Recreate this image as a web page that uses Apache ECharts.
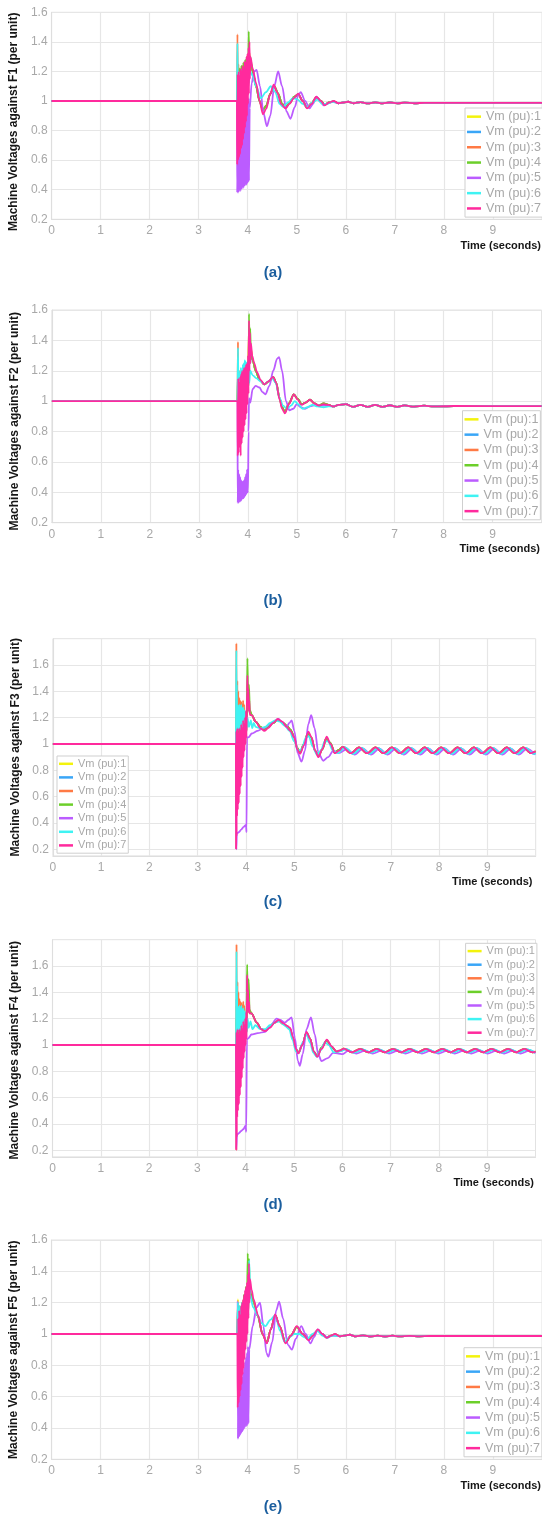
<!DOCTYPE html>
<html>
<head>
<meta charset="utf-8">
<script src="https://cdn.jsdelivr.net/npm/echarts@6/dist/echarts.min.js"></script>
<style>
html,body{margin:0;padding:0;background:#fff}
#graph{width:542px;height:1518px}
</style>
</head>
<body>
<div id="graph"></div>
<script>
// legend names, colours and tick labels
var names = ['Vm (pu):1','Vm (pu):2','Vm (pu):3','Vm (pu):4','Vm (pu):5','Vm (pu):6','Vm (pu):7'];
var colors = ['#f3f30c','#3aa6f7','#ff7a45','#6ccf2a','#bb5cff','#3ff3f3','#ff2a9d'];
var xTicks = [0,1,2,3,4,5,6,7,8,9];
var yTicks = [0.2,0.4,0.6,0.8,1,1.2,1.4,1.6];

// ---------- (a) F1 ----------
var aPre = [[0,1],[3.78,1]];
var aFault1 = [[3.79,1.1],[3.8,0.98],[3.82,1.2],[3.84,1.0],[3.86,1.22],[3.88,1.02],[3.9,1.24],[3.92,1.05],[3.94,1.26],[3.96,1.08],[3.98,1.3],[4.0,1.12],[4.02,1.32],[4.05,1.28]];
var aFault2 = [[3.79,1.15],[3.81,0.97],[3.83,1.18],[3.85,1.0],[3.87,1.2],[3.89,1.02],[3.91,1.22],[3.93,1.05],[3.95,1.25],[3.97,1.08],[3.99,1.28],[4.01,1.1],[4.03,1.3],[4.05,1.27]];
var aFault3 = [[3.79,1.45],[3.8,1.0],[3.81,1.25],[3.83,0.98],[3.85,1.2],[3.87,1.0],[3.89,1.22],[3.91,1.03],[3.93,1.24],[3.95,1.06],[3.97,1.27],[3.99,1.1],[4.01,1.3],[4.03,1.33],[4.05,1.28]];
var aFault4 = [[3.79,1.2],[3.81,1.0],[3.83,1.22],[3.85,1.02],[3.87,1.24],[3.89,1.04],[3.91,1.26],[3.93,1.06],[3.95,1.28],[3.97,1.1],[3.99,1.3],[4.01,1.15],[4.02,1.47],[4.035,1.2],[4.05,1.3]];
var aPost = [[4.1,1.2],[4.17,1.1],[4.24,1.0],[4.31,0.94],[4.38,0.97],[4.46,1.05],[4.54,1.1],[4.62,1.05],[4.7,0.98],[4.77,0.955],[4.86,0.99],[4.95,1.03],[5.03,1.045],[5.12,1.0],[5.21,0.955],[5.3,0.985],[5.4,1.025],[5.49,1.0],[5.57,0.975],[5.66,0.99],[5.75,0.998]];
var aTail = [[5.85,0.985],[5.95,0.99],[6.05,0.995],[6.15,0.985],[6.3,0.992],[6.45,0.984],[6.6,0.991],[6.75,0.984],[6.9,0.99],[7.05,0.984],[7.2,0.989],[7.4,0.985],[7.6,0.988],[8,0.987],[10,0.987]];
var aFault5 = [[3.785,0.38],[3.795,0.72],[3.805,0.38],[3.815,0.74],[3.825,0.39],[3.835,0.76],[3.845,0.39],[3.855,0.8],[3.865,0.4],[3.875,0.82],[3.885,0.41],[3.895,0.85],[3.905,0.41],[3.915,0.88],[3.925,0.42],[3.935,0.9],[3.945,0.43],[3.955,0.93],[3.965,0.43],[3.975,0.96],[3.985,0.44],[3.995,1.0],[4.005,0.45],[4.015,1.02],[4.025,0.46]];
var aPost5 = [[4.04,0.95],[4.08,1.12],[4.13,1.2],[4.18,1.21],[4.25,1.1],[4.32,0.92],[4.39,0.83],[4.46,0.9],[4.54,1.1],[4.62,1.2],[4.7,1.1],[4.79,0.93],[4.87,0.88],[4.96,0.96],[5.03,1.04],[5.08,1.06],[5.17,1.0],[5.26,0.95],[5.33,0.98],[5.4,1.03],[5.48,1.0],[5.55,0.97],[5.64,0.985],[5.74,0.995]];
var aFault6 = [[3.79,1.39],[3.8,1.0],[3.81,1.2],[3.82,1.02],[3.83,1.18],[3.84,1.0],[3.85,1.2],[3.86,1.03],[3.87,1.19],[3.88,1.02],[3.89,1.22],[3.9,1.05],[3.91,1.2],[3.92,1.04],[3.93,1.22],[3.94,1.06],[3.95,1.23],[3.96,1.05],[3.97,1.24],[3.98,1.08],[3.99,1.25],[4.0,1.1],[4.01,1.26],[4.02,1.12],[4.03,1.3],[4.05,1.2]];
var aPost6 = [[4.1,1.17],[4.17,1.1],[4.27,1.02],[4.37,1.06],[4.47,1.1],[4.56,1.06],[4.65,0.98],[4.72,0.96],[4.82,0.99],[4.92,1.02],[5.02,1.01],[5.12,0.98],[5.22,0.96],[5.32,0.99],[5.42,1.01],[5.52,0.98],[5.62,0.98],[5.72,0.995]];
var aFault7 = [[3.785,0.57],[3.795,1.18],[3.805,0.6],[3.815,1.2],[3.825,0.62],[3.835,1.17],[3.845,0.64],[3.855,1.22],[3.865,0.68],[3.875,1.2],[3.885,0.7],[3.895,1.24],[3.905,0.74],[3.915,1.22],[3.925,0.78],[3.935,1.27],[3.945,0.82],[3.955,1.26],[3.965,0.86],[3.975,1.3],[3.985,0.9],[3.995,1.32],[4.005,0.98],[4.015,1.36],[4.025,1.05],[4.035,1.4],[4.045,1.15],[4.055,1.3]];
var aPost7 = [[4.1,1.22],[4.17,1.12],[4.24,1.0],[4.31,0.91],[4.38,0.95],[4.45,1.04],[4.53,1.11],[4.6,1.06],[4.68,0.98],[4.77,0.95],[4.85,0.98],[4.94,1.02],[5.03,1.05],[5.12,1.0],[5.21,0.95],[5.3,0.98],[5.4,1.03],[5.49,1.0],[5.57,0.97],[5.66,0.99],[5.75,1.0]];

// ---------- (b) F2 ----------
var bPre = [[0,1],[3.79,1]];
var bFault1 = [[3.8,1.15],[3.81,0.95],[3.83,1.15],[3.85,0.98],[3.87,1.17],[3.89,1.0],[3.91,1.2],[3.93,1.02],[3.95,1.22],[3.97,1.05],[3.99,1.25],[4.01,1.1],[4.025,1.45],[4.04,1.25],[4.06,1.35]];
var bFault2 = [[3.8,1.2],[3.82,0.97],[3.84,1.16],[3.86,1.0],[3.88,1.18],[3.9,1.02],[3.92,1.2],[3.94,1.04],[3.96,1.22],[3.98,1.06],[4.0,1.25],[4.02,1.12],[4.03,1.42],[4.05,1.25],[4.06,1.32]];
var bFault3 = [[3.8,1.39],[3.805,1.0],[3.82,1.2],[3.84,0.98],[3.86,1.18],[3.88,1.0],[3.9,1.2],[3.92,1.03],[3.94,1.22],[3.96,1.05],[3.98,1.24],[4.0,1.08],[4.025,1.5],[4.04,1.25],[4.06,1.35]];
var bFault4 = [[3.8,1.18],[3.82,0.98],[3.84,1.18],[3.86,1.0],[3.88,1.2],[3.9,1.02],[3.92,1.22],[3.94,1.04],[3.96,1.24],[3.98,1.06],[4.0,1.26],[4.015,1.1],[4.025,1.574],[4.04,1.3],[4.05,1.48],[4.065,1.3]];
var bPost = [[4.1,1.27],[4.16,1.2],[4.24,1.14],[4.34,1.11],[4.43,1.13],[4.52,1.16],[4.58,1.12],[4.65,1.02],[4.7,0.96],[4.76,0.93],[4.84,0.985],[4.94,1.045],[5.02,1.015],[5.1,0.98],[5.18,0.99],[5.27,1.01],[5.36,0.985],[5.45,0.97],[5.55,0.985],[5.65,0.975]];
var bTail = [[5.75,0.965],[5.85,0.975],[6.0,0.98],[6.15,0.962],[6.3,0.975],[6.45,0.962],[6.6,0.975],[6.75,0.963],[6.9,0.973],[7.05,0.963],[7.2,0.972],[7.4,0.964],[7.6,0.97],[7.8,0.965],[8.2,0.968],[10,0.967]];
var bFault5 = [[3.795,0.33],[3.805,0.55],[3.815,0.33],[3.825,0.52],[3.835,0.34],[3.845,0.5],[3.855,0.34],[3.865,0.48],[3.875,0.35],[3.885,0.47],[3.895,0.36],[3.905,0.47],[3.915,0.36],[3.925,0.48],[3.935,0.37],[3.945,0.5],[3.955,0.38],[3.965,0.52],[3.975,0.39],[3.985,0.55],[3.995,0.4],[4.005,0.41]];
var bPost5 = [[4.015,0.8],[4.025,1.02],[4.05,0.99],[4.1,1.08],[4.16,1.1],[4.24,1.09],[4.3,1.06],[4.36,1.045],[4.44,1.1],[4.52,1.2],[4.6,1.28],[4.64,1.29],[4.7,1.2],[4.78,1.0],[4.85,0.94],[4.93,0.95],[5.0,0.98],[5.08,0.96],[5.17,0.95],[5.27,0.965],[5.38,0.975],[5.5,0.97],[5.6,0.972]];
var bFault6 = [[3.8,1.35],[3.81,1.02],[3.82,1.2],[3.83,1.05],[3.84,1.18],[3.85,1.06],[3.86,1.22],[3.87,1.08],[3.88,1.2],[3.89,1.1],[3.9,1.24],[3.91,1.1],[3.92,1.25],[3.93,1.12],[3.94,1.27],[3.95,1.12],[3.96,1.26],[3.97,1.14],[3.98,1.25],[3.99,1.12],[4.0,1.22],[4.01,1.1],[4.02,1.3],[4.03,1.12],[4.05,1.2]];
var bPost6 = [[4.1,1.17],[4.18,1.15],[4.26,1.13],[4.34,1.11],[4.42,1.13],[4.5,1.15],[4.57,1.12],[4.65,1.02],[4.72,0.97],[4.8,0.95],[4.88,0.97],[4.96,1.0],[5.03,0.98],[5.12,0.95],[5.22,0.96],[5.32,0.975],[5.42,0.965],[5.55,0.96],[5.65,0.965]];
var bFault7 = [[3.795,0.64],[3.805,1.15],[3.815,0.66],[3.825,1.12],[3.835,0.7],[3.845,1.16],[3.855,0.64],[3.865,1.18],[3.875,0.72],[3.885,1.2],[3.895,0.76],[3.905,1.2],[3.915,0.8],[3.925,1.22],[3.935,0.84],[3.945,1.22],[3.955,0.88],[3.965,1.24],[3.975,0.92],[3.985,1.25],[3.995,0.98],[4.005,1.3],[4.015,1.05],[4.025,1.53],[4.035,1.2],[4.045,1.45],[4.055,1.25],[4.065,1.38]];
var bPost7 = [[4.09,1.3],[4.13,1.25],[4.19,1.19],[4.26,1.14],[4.34,1.11],[4.42,1.13],[4.52,1.16],[4.58,1.12],[4.65,1.01],[4.7,0.95],[4.76,0.92],[4.84,0.98],[4.94,1.045],[5.02,1.01],[5.1,0.975],[5.18,0.99],[5.27,1.01],[5.36,0.985],[5.45,0.97],[5.55,0.98],[5.65,0.975]];

// ---------- (c) F3 ----------
var cPre = [[0,1],[3.79,1]];
var cFault1 = [[3.795,0.6],[3.8,1.3],[3.81,0.7],[3.82,1.25],[3.83,0.8],[3.85,1.2],[3.87,0.85],[3.89,1.22],[3.91,0.9],[3.93,1.2],[3.95,0.95],[3.97,1.22],[3.99,1.0],[4.01,1.2],[4.03,1.45],[4.05,1.3],[4.08,1.25]];
var cFault2 = [[3.795,0.55],[3.8,1.35],[3.81,0.75],[3.82,1.28],[3.84,0.82],[3.86,1.22],[3.88,0.88],[3.9,1.2],[3.92,0.92],[3.94,1.22],[3.96,0.98],[3.98,1.2],[4.0,1.05],[4.02,1.25],[4.03,1.42],[4.05,1.28],[4.08,1.24]];
var cFault3 = [[3.795,0.2],[3.8,1.765],[3.805,1.0],[3.81,1.3],[3.815,1.05],[3.82,1.48],[3.83,1.1],[3.84,1.4],[3.85,1.15],[3.86,1.35],[3.87,1.15],[3.88,1.33],[3.89,1.18],[3.9,1.32],[3.91,1.18],[3.92,1.3],[3.93,1.2],[3.94,1.33],[3.95,1.15],[3.96,1.3],[3.97,1.1],[3.98,1.25],[3.99,1.05],[4.0,1.2],[4.01,1.1],[4.03,1.45],[4.06,1.25],[4.1,1.22]];
var cFault4 = [[3.795,0.5],[3.8,1.2],[3.81,0.8],[3.82,1.25],[3.84,0.85],[3.86,1.2],[3.88,0.9],[3.9,1.22],[3.92,0.95],[3.94,1.2],[3.96,1.0],[3.98,1.22],[4.0,1.05],[4.02,1.3],[4.03,1.65],[4.045,1.3],[4.06,1.45],[4.08,1.26]];
var cPost = [[4.12,1.22],[4.2,1.17],[4.3,1.13],[4.38,1.11],[4.46,1.13],[4.56,1.16],[4.66,1.185],[4.75,1.165],[4.84,1.14],[4.92,1.11],[4.99,1.06],[5.06,0.97],[5.12,0.935],[5.2,1.0],[5.28,1.08],[5.35,1.05],[5.43,0.95],[5.5,0.91],[5.58,0.96],[5.66,1.04],[5.74,1.01],[5.84,0.935],[5.92,0.955]];
var cTail = [[6.0,0.978],[6.17,0.93],[6.34,0.975],[6.51,0.93],[6.68,0.975],[6.85,0.93],[7.02,0.975],[7.19,0.93],[7.36,0.975],[7.53,0.93],[7.7,0.975],[7.87,0.93],[8.04,0.975],[8.21,0.93],[8.38,0.975],[8.55,0.93],[8.72,0.975],[8.89,0.93],[9.06,0.975],[9.23,0.93],[9.4,0.975],[9.57,0.93],[9.74,0.975],[9.91,0.93],[10,0.945]];
var cFault5 = [[3.8,0.2],[3.81,0.32],[3.85,0.33],[3.9,0.35],[3.95,0.37],[4.0,0.385],[4.01,0.33],[4.02,1.05]];
var cPost5 = [[4.05,1.05],[4.12,1.08],[4.24,1.1],[4.36,1.12],[4.5,1.15],[4.67,1.19],[4.76,1.16],[4.84,1.13],[4.9,1.16],[4.945,1.18],[5.0,1.1],[5.07,0.93],[5.15,0.866],[5.22,0.95],[5.29,1.15],[5.35,1.22],[5.42,1.12],[5.5,0.93],[5.6,0.873],[5.7,0.9],[5.81,0.95],[5.92,0.93]];
var cTail5 = [[6.08,0.96],[6.25,0.92],[6.42,0.965],[6.59,0.92],[6.76,0.965],[6.93,0.92],[7.1,0.965],[7.27,0.92],[7.44,0.965],[7.61,0.92],[7.78,0.965],[7.95,0.92],[8.12,0.965],[8.29,0.92],[8.46,0.965],[8.63,0.92],[8.8,0.965],[8.97,0.92],[9.14,0.965],[9.31,0.92],[9.48,0.965],[9.65,0.92],[9.82,0.965],[9.99,0.92]];
var cFault6 = [[3.8,1.71],[3.805,1.1],[3.81,1.45],[3.815,1.12],[3.82,1.3],[3.83,1.1],[3.84,1.28],[3.85,1.12],[3.86,1.3],[3.87,1.1],[3.88,1.28],[3.89,1.12],[3.9,1.3],[3.91,1.1],[3.92,1.27],[3.93,1.12],[3.94,1.28],[3.95,1.1],[3.96,1.26],[3.97,1.12],[3.98,1.25],[3.99,1.1],[4.0,1.2],[4.01,1.12],[4.03,1.2],[4.06,1.13],[4.1,1.18],[4.13,1.12],[4.16,1.16],[4.2,1.13]];
var cPost6 = [[4.3,1.12],[4.4,1.13],[4.5,1.16],[4.6,1.18],[4.7,1.17],[4.8,1.14],[4.9,1.1],[5.0,1.02],[5.08,0.95],[5.15,0.96],[5.24,1.05],[5.3,1.06],[5.38,0.98],[5.47,0.92],[5.55,0.95],[5.63,1.02],[5.7,1.02],[5.8,0.95],[5.9,0.93]];
var cTail6 = [[6.05,0.975],[6.22,0.925],[6.39,0.97],[6.56,0.925],[6.73,0.97],[6.9,0.925],[7.07,0.97],[7.24,0.925],[7.41,0.97],[7.58,0.925],[7.75,0.97],[7.92,0.925],[8.09,0.97],[8.26,0.925],[8.43,0.97],[8.6,0.925],[8.77,0.97],[8.94,0.925],[9.11,0.97],[9.28,0.925],[9.45,0.97],[9.62,0.925],[9.79,0.97],[9.96,0.925],[10,0.93]];
var cFault7 = [[3.795,0.2],[3.8,1.1],[3.805,0.3],[3.81,1.05],[3.815,0.45],[3.82,1.12],[3.83,0.5],[3.84,1.08],[3.85,0.55],[3.86,1.12],[3.87,0.62],[3.88,1.1],[3.89,0.68],[3.9,1.15],[3.91,0.75],[3.92,1.12],[3.93,0.82],[3.94,1.18],[3.95,0.9],[3.96,1.15],[3.97,0.95],[3.98,1.2],[3.99,1.0],[4.0,1.25],[4.01,1.05],[4.02,1.4],[4.03,1.52],[4.04,1.3],[4.05,1.42],[4.06,1.25],[4.07,1.33],[4.08,1.22]];
var cPost7 = [[4.12,1.22],[4.2,1.17],[4.3,1.12],[4.38,1.1],[4.46,1.12],[4.56,1.16],[4.66,1.19],[4.75,1.17],[4.84,1.13],[4.92,1.1],[5.0,1.05],[5.06,0.96],[5.12,0.925],[5.2,0.99],[5.29,1.094],[5.36,1.05],[5.43,0.95],[5.5,0.9],[5.58,0.96],[5.67,1.055],[5.75,1.0],[5.84,0.93],[5.93,0.95]];

// ---------- (d) F4 ----------
var dPre = [[0,1],[3.8,1]];
var dFault1 = [[3.805,0.6],[3.81,1.3],[3.82,0.72],[3.83,1.25],[3.84,0.8],[3.86,1.2],[3.88,0.86],[3.9,1.22],[3.92,0.9],[3.94,1.2],[3.96,0.96],[3.98,1.22],[4.0,1.02],[4.02,1.25],[4.03,1.45],[4.05,1.3],[4.08,1.26]];
var dFault2 = [[3.805,0.55],[3.81,1.35],[3.82,0.75],[3.83,1.28],[3.85,0.82],[3.87,1.22],[3.89,0.88],[3.91,1.2],[3.93,0.92],[3.95,1.22],[3.97,0.98],[3.99,1.2],[4.01,1.05],[4.02,1.25],[4.03,1.5],[4.05,1.28],[4.08,1.25]];
var dFault3 = [[3.805,0.2],[3.81,1.765],[3.815,1.0],[3.82,1.3],[3.825,1.05],[3.83,1.48],[3.84,1.1],[3.85,1.4],[3.86,1.15],[3.87,1.35],[3.88,1.15],[3.89,1.33],[3.9,1.18],[3.91,1.32],[3.92,1.18],[3.93,1.3],[3.94,1.2],[3.95,1.33],[3.96,1.15],[3.97,1.3],[3.98,1.1],[3.99,1.25],[4.0,1.05],[4.01,1.2],[4.02,1.1],[4.035,1.45],[4.06,1.25],[4.1,1.24]];
var dFault4 = [[3.805,0.5],[3.81,1.2],[3.82,0.8],[3.83,1.25],[3.85,0.85],[3.87,1.2],[3.89,0.9],[3.91,1.22],[3.93,0.95],[3.95,1.2],[3.97,1.0],[3.99,1.22],[4.01,1.05],[4.02,1.3],[4.03,1.61],[4.045,1.3],[4.06,1.5],[4.08,1.27]];
var dPost = [[4.12,1.24],[4.23,1.17],[4.32,1.12],[4.4,1.11],[4.5,1.14],[4.6,1.17],[4.68,1.185],[4.78,1.16],[4.86,1.14],[4.92,1.12],[4.98,1.05],[5.04,0.97],[5.09,0.94],[5.17,1.0],[5.26,1.095],[5.33,1.05],[5.41,0.95],[5.48,0.915],[5.57,0.98],[5.68,1.035],[5.78,0.985],[5.88,0.95],[5.95,0.955]];
var dTail = [[6.03,0.972],[6.2,0.945],[6.37,0.97],[6.54,0.945],[6.71,0.97],[6.88,0.945],[7.05,0.97],[7.22,0.945],[7.39,0.97],[7.56,0.945],[7.73,0.97],[7.9,0.945],[8.07,0.97],[8.24,0.945],[8.41,0.97],[8.58,0.945],[8.75,0.97],[8.92,0.945],[9.09,0.97],[9.26,0.945],[9.43,0.97],[9.6,0.945],[9.77,0.97],[9.94,0.945],[10,0.95]];
var dFault5 = [[3.805,0.21],[3.82,0.32],[3.86,0.33],[3.9,0.345],[3.95,0.36],[4.0,0.39],[4.01,0.34],[4.025,1.04]];
var dPost5 = [[4.05,1.05],[4.12,1.08],[4.25,1.09],[4.4,1.1],[4.52,1.15],[4.64,1.2],[4.72,1.19],[4.81,1.17],[4.88,1.19],[4.95,1.21],[5.02,1.05],[5.08,0.88],[5.12,0.842],[5.18,0.93],[5.26,1.12],[5.35,1.21],[5.43,1.08],[5.5,0.93],[5.57,0.878],[5.7,0.9],[5.81,0.94],[5.92,0.935]];
var dTail5 = [[6.0,0.93],[6.12,0.955],[6.29,0.935],[6.46,0.955],[6.63,0.935],[6.8,0.955],[6.97,0.935],[7.14,0.955],[7.31,0.935],[7.48,0.955],[7.65,0.935],[7.82,0.955],[7.99,0.935],[8.16,0.955],[8.33,0.935],[8.5,0.955],[8.67,0.935],[8.84,0.955],[9.01,0.935],[9.18,0.955],[9.35,0.935],[9.52,0.955],[9.69,0.935],[9.86,0.955],[10,0.94]];
var dFault6 = [[3.81,1.71],[3.815,1.1],[3.82,1.45],[3.825,1.12],[3.83,1.3],[3.84,1.1],[3.85,1.28],[3.86,1.12],[3.87,1.3],[3.88,1.1],[3.89,1.28],[3.9,1.12],[3.91,1.3],[3.92,1.1],[3.93,1.27],[3.94,1.12],[3.95,1.28],[3.96,1.1],[3.97,1.26],[3.98,1.12],[3.99,1.25],[4.0,1.1],[4.01,1.2],[4.02,1.1],[4.04,1.2],[4.06,1.13],[4.1,1.18],[4.14,1.12]];
var dPost6 = [[4.2,1.15],[4.3,1.12],[4.4,1.12],[4.5,1.15],[4.6,1.17],[4.7,1.18],[4.8,1.15],[4.9,1.12],[4.97,1.04],[5.04,0.95],[5.1,0.94],[5.18,1.02],[5.26,1.08],[5.33,1.02],[5.4,0.94],[5.47,0.91],[5.55,0.96],[5.64,1.02],[5.72,1.0],[5.82,0.945],[5.92,0.95]];
var dTail6 = [[6.08,0.968],[6.25,0.942],[6.42,0.966],[6.59,0.942],[6.76,0.966],[6.93,0.942],[7.1,0.966],[7.27,0.942],[7.44,0.966],[7.61,0.942],[7.78,0.966],[7.95,0.942],[8.12,0.966],[8.29,0.942],[8.46,0.966],[8.63,0.942],[8.8,0.966],[8.97,0.942],[9.14,0.966],[9.31,0.942],[9.48,0.966],[9.65,0.942],[9.82,0.966],[9.99,0.942]];
var dFault7 = [[3.805,0.2],[3.81,1.1],[3.815,0.3],[3.82,1.05],[3.825,0.45],[3.83,1.12],[3.84,0.5],[3.85,1.08],[3.86,0.55],[3.87,1.12],[3.88,0.62],[3.89,1.1],[3.9,0.68],[3.91,1.15],[3.92,0.75],[3.93,1.12],[3.94,0.82],[3.95,1.18],[3.96,0.9],[3.97,1.15],[3.98,0.95],[3.99,1.2],[4.0,1.0],[4.01,1.25],[4.02,1.05],[4.025,1.4],[4.03,1.53],[4.04,1.3],[4.05,1.42],[4.06,1.25],[4.07,1.33],[4.08,1.24]];
var dPost7 = [[4.12,1.24],[4.23,1.17],[4.32,1.12],[4.4,1.105],[4.5,1.13],[4.6,1.17],[4.68,1.19],[4.78,1.165],[4.86,1.145],[4.92,1.13],[4.98,1.06],[5.04,0.97],[5.09,0.936],[5.17,1.0],[5.26,1.1],[5.33,1.05],[5.41,0.95],[5.48,0.91],[5.57,0.97],[5.68,1.04],[5.78,0.99],[5.88,0.95],[5.96,0.96]];

// ---------- (e) F5 ----------
var ePre = [[0,1],[3.79,1]];
var eFault1 = [[3.8,1.22],[3.81,0.98],[3.83,1.15],[3.85,1.0],[3.87,1.18],[3.89,1.02],[3.91,1.22],[3.93,1.05],[3.95,1.26],[3.97,1.08],[3.99,1.3],[4.01,1.12],[4.02,1.42],[4.04,1.25]];
var eFault2 = [[3.8,1.18],[3.82,0.97],[3.84,1.15],[3.86,1.0],[3.88,1.18],[3.9,1.02],[3.92,1.22],[3.94,1.05],[3.96,1.26],[3.98,1.08],[4.0,1.3],[4.02,1.4],[4.04,1.26]];
var eFault3 = [[3.8,1.15],[3.81,0.97],[3.83,1.15],[3.85,1.0],[3.87,1.17],[3.89,1.02],[3.91,1.21],[3.93,1.05],[3.95,1.25],[3.97,1.08],[3.99,1.3],[4.01,1.12],[4.02,1.44],[4.04,1.25]];
var eFault4 = [[3.8,1.2],[3.82,0.98],[3.84,1.18],[3.86,1.0],[3.88,1.2],[3.9,1.03],[3.92,1.25],[3.94,1.06],[3.96,1.3],[3.98,1.1],[4.0,1.515],[4.01,1.2],[4.025,1.48],[4.04,1.28]];
var ePost = [[4.11,1.21],[4.21,1.11],[4.3,1.0],[4.39,0.945],[4.47,1.03],[4.56,1.12],[4.65,1.05],[4.77,0.945],[4.88,0.99],[5.0,1.045],[5.12,1.0],[5.24,0.965],[5.33,0.99],[5.43,1.025],[5.52,1.0],[5.61,0.978],[5.7,0.99],[5.78,0.998]];
var eTail = [[5.88,0.985],[5.98,0.99],[6.08,0.995],[6.2,0.985],[6.35,0.991],[6.5,0.984],[6.65,0.99],[6.8,0.984],[6.95,0.989],[7.1,0.985],[7.3,0.988],[7.5,0.985],[7.7,0.987],[8.1,0.987],[10,0.987]];
var eFault5 = [[3.795,1.21],[3.8,0.33],[3.805,0.62],[3.815,0.34],[3.825,0.64],[3.835,0.35],[3.845,0.66],[3.855,0.36],[3.865,0.7],[3.875,0.37],[3.885,0.72],[3.895,0.38],[3.905,0.75],[3.915,0.39],[3.925,0.78],[3.935,0.4],[3.945,0.82],[3.955,0.41],[3.965,0.85],[3.975,0.41],[3.985,0.88],[3.995,0.42],[4.005,0.92],[4.015,0.43]];
var ePost5 = [[4.03,0.9],[4.1,1.05],[4.18,1.17],[4.25,1.2],[4.32,1.05],[4.38,0.88],[4.42,0.855],[4.5,0.95],[4.58,1.15],[4.64,1.206],[4.72,1.1],[4.82,0.93],[4.9,0.9],[4.98,0.97],[5.09,1.05],[5.18,1.0],[5.28,0.94],[5.35,0.98],[5.43,1.03],[5.52,1.0],[5.62,0.98],[5.72,0.99]];
var eFault6 = [[3.8,1.2],[3.81,1.0],[3.82,1.15],[3.83,1.02],[3.84,1.18],[3.85,1.0],[3.86,1.15],[3.87,1.03],[3.88,1.2],[3.89,1.02],[3.9,1.18],[3.91,1.05],[3.92,1.22],[3.93,1.04],[3.94,1.25],[3.95,1.06],[3.96,1.25],[3.97,1.08],[3.98,1.28],[3.99,1.1],[4.0,1.3],[4.01,1.12],[4.03,1.47],[4.05,1.25]];
var ePost6 = [[4.11,1.17],[4.2,1.12],[4.28,1.07],[4.36,1.05],[4.46,1.09],[4.56,1.12],[4.66,1.02],[4.75,0.95],[4.85,0.98],[4.95,1.0],[5.05,1.0],[5.15,0.98],[5.22,0.97],[5.32,1.0],[5.42,1.02],[5.52,0.99],[5.62,0.975],[5.72,0.99]];
var eFault7 = [[3.795,0.53],[3.805,1.1],[3.815,0.56],[3.825,1.15],[3.835,0.6],[3.845,1.12],[3.855,0.64],[3.865,1.18],[3.875,0.68],[3.885,1.2],[3.895,0.74],[3.905,1.22],[3.915,0.78],[3.925,1.25],[3.935,0.84],[3.945,1.28],[3.955,0.9],[3.965,1.3],[3.975,0.95],[3.985,1.33],[3.995,1.0],[4.005,1.38],[4.015,1.1],[4.025,1.45],[4.035,1.2],[4.045,1.35]];
var ePost7 = [[4.08,1.28],[4.12,1.22],[4.21,1.12],[4.3,1.0],[4.39,0.94],[4.47,1.03],[4.56,1.125],[4.65,1.05],[4.77,0.94],[4.88,0.99],[5.0,1.05],[5.12,1.0],[5.24,0.96],[5.33,0.99],[5.43,1.03],[5.52,1.0],[5.61,0.975],[5.7,0.99],[5.78,1.0]];

var panelData = [
  [aPre.concat(aFault1,aPost,aTail), aPre.concat(aFault2,aPost,aTail), aPre.concat(aFault3,aPost,aTail), aPre.concat(aFault4,aPost,aTail),
   aPre.concat(aFault5,aPost5,aTail), aPre.concat(aFault6,aPost6,aTail), aPre.concat(aFault7,aPost7,aTail)],
  [bPre.concat(bFault1,bPost,bTail), bPre.concat(bFault2,bPost,bTail), bPre.concat(bFault3,bPost,bTail), bPre.concat(bFault4,bPost,bTail),
   bPre.concat(bFault5,bPost5,bTail), bPre.concat(bFault6,bPost6,bTail), bPre.concat(bFault7,bPost7,bTail)],
  [cPre.concat(cFault1,cPost,cTail), cPre.concat(cFault2,cPost,cTail6), cPre.concat(cFault3,cPost,cTail), cPre.concat(cFault4,cPost,cTail),
   cPre.concat(cFault5,cPost5,cTail5), cPre.concat(cFault6,cPost6,cTail6), cPre.concat(cFault7,cPost7,cTail)],
  [dPre.concat(dFault1,dPost,dTail), dPre.concat(dFault2,dPost,dTail6), dPre.concat(dFault3,dPost,dTail), dPre.concat(dFault4,dPost,dTail),
   dPre.concat(dFault5,dPost5,dTail5), dPre.concat(dFault6,dPost6,dTail6), dPre.concat(dFault7,dPost7,dTail)],
  [ePre.concat(eFault1,ePost,eTail), ePre.concat(eFault2,ePost,eTail), ePre.concat(eFault3,ePost,eTail), ePre.concat(eFault4,ePost,eTail),
   ePre.concat(eFault5,ePost5,eTail), ePre.concat(eFault6,ePost6,eTail), ePre.concat(eFault7,ePost7,eTail)]
];

// layout of the five panels
var panels = [
  {f:'F1', grid:{left:50, top:12.3, width:493.6, height:207}, yMin:0.2, yMax:1.6, nameGap:30, namePad:12,
   leg:{left:465, top:108, fs:12.5, lh:13.3}, timeX:541, timeY:246, cap:'(a)', capY:273},
  {f:'F2', grid:{left:51.9, top:310, width:489.7, height:212.7}, yMin:0.2, yMax:1.6, nameGap:30, namePad:10,
   leg:{left:462.5, top:410.7, fs:12.5, lh:13.3}, timeX:540, timeY:549.3, cap:'(b)', capY:601},
  {f:'F3', grid:{left:52.9, top:638.7, width:482.8, height:217.2}, yMin:0.15, yMax:1.8, nameGap:29, namePad:0,
   leg:{left:57, top:756, fs:11, lh:11.6}, timeX:532.5, timeY:881.7, cap:'(c)', capY:902},
  {f:'F4', grid:{left:52.5, top:939.7, width:483, height:217.2}, yMin:0.15, yMax:1.8, nameGap:28, namePad:4,
   leg:{left:465.6, top:943.3, fs:11, lh:11.6}, timeX:534, timeY:1182.7, cap:'(d)', capY:1205},
  {f:'F5', grid:{left:44.2, top:1240, width:498, height:219.3}, yMin:0.2, yMax:1.6, nameGap:28, namePad:0,
   leg:{left:464, top:1347.7, fs:12.5, lh:13.3}, timeX:541, timeY:1486, cap:'(e)', capY:1506.7}
];

var chartDom = document.getElementById('graph');
var myChart = echarts.init(chartDom);
var option;

var FONT = 'Liberation Sans, Arial, Helvetica, sans-serif';
var grids = [], xAxes = [], yAxes = [], legends = [], series = [], graphics = [];

panels.forEach(function (p, i) {
  grids.push({left:p.grid.left, top:p.grid.top, width:p.grid.width, height:p.grid.height,
    show:true, borderColor:'#e2e2e2', borderWidth:1, backgroundColor:'#fff'});
  xAxes.push({
    gridIndex:i, type:'value', min:0, max:10,
    axisLine:{show:true, onZero:false, lineStyle:{color:'#dedede', width:1}},
    axisTick:{show:false, customValues:xTicks},
    axisLabel:{customValues:xTicks, margin:5.5, color:'#a8a8a8', fontSize:12, fontFamily:FONT},
    splitLine:{show:true, lineStyle:{color:'#e6e6e6', width:1.2}}
  });
  yAxes.push({
    gridIndex:i, type:'value', min:p.yMin, max:p.yMax,
    name:'Machine Voltages against ' + p.f + ' (per unit)',
    nameLocation:'middle', nameGap:p.nameGap,
    nameTextStyle:{color:'#161616', fontWeight:'bold', fontSize:12, fontFamily:FONT, padding:[0, p.namePad, 0, 0]},
    axisLine:{show:true, lineStyle:{color:'#dedede', width:1}},
    axisTick:{show:false, customValues:yTicks},
    axisLabel:{customValues:yTicks, margin:4, color:'#a8a8a8', fontSize:12, fontFamily:FONT},
    splitLine:{show:true, lineStyle:{color:'#e6e6e6', width:1.2}}
  });
  legends.push({
    data:names, orient:'vertical', left:p.leg.left, top:p.leg.top,
    icon:'rect', itemWidth:14, itemHeight:2.5, itemGap:2,
    padding:[2,2,2,2], backgroundColor:'#fff', borderColor:'#cfcfcf', borderWidth:1,
    selectedMode:false,
    textStyle:{color:'#a8a8a8', fontSize:p.leg.fs, lineHeight:p.leg.lh, fontFamily:FONT}
  });
  panelData[i].forEach(function (d, k) {
    series.push({
      type:'line', name:names[k], xAxisIndex:i, yAxisIndex:i, data:d,
      color:colors[k], symbol:'none', showSymbol:false,
      smooth:0.3, smoothMonotone:'x', clip:true,
      lineStyle:{width:1.8, color:colors[k]},
      emphasis:{disabled:true}, z:2 + k * 0.01
    });
  });
  graphics.push({type:'text', z:10, style:{text:'Time (seconds)', x:p.timeX, y:p.timeY,
    align:'right', verticalAlign:'middle', font:'bold 11px ' + FONT, fill:'#161616'}});
  graphics.push({type:'text', z:10, style:{text:p.cap, x:273, y:p.capY,
    align:'center', verticalAlign:'middle', font:'bold 15px ' + FONT, fill:'#1b5e9e'}});
});

option = {
  animation:false,
  backgroundColor:'#fff',
  grid:grids,
  xAxis:xAxes,
  yAxis:yAxes,
  legend:legends,
  series:series,
  graphic:graphics
};
option && myChart.setOption(option);
</script>
</body>
</html>
